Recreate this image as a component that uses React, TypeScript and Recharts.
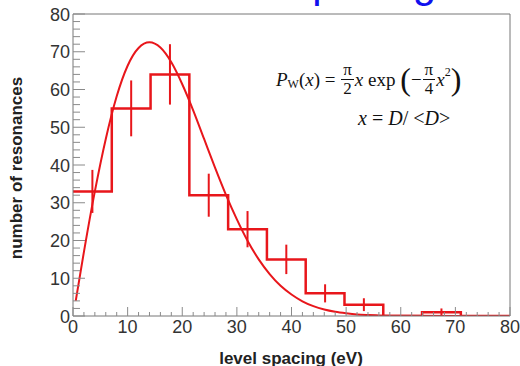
import { ComposedChart, Line, Scatter, ErrorBar, XAxis, YAxis } from "recharts";

// histogram (bin edges and counts, step drawn after each edge)
const binEdges = [0, 7.1, 14.2, 21.3, 28.4, 35.5, 42.6, 49.7, 56.8, 63.9, 71, 80];
const binCounts = [33, 55, 64, 32, 23, 15, 6, 3, 0, 1, 0, 0];

// error bars at bin centres
const binCenters = [3.55, 10.65, 17.75, 24.85, 31.95, 39.05, 46.15, 53.25, 67.45];
const centerCounts = [33, 55, 64, 32, 23, 15, 6, 3, 1];
const countErrors = [5.7, 7.4, 8, 5.7, 4.8, 3.9, 2.4, 1.7, 1];

// Wigner curve
const curveX = [0.5, 2, 4, 6, 8, 10, 12, 14, 16, 18, 20, 22, 24, 26, 28, 30, 32, 34, 36, 38, 40, 42, 44, 46, 48, 50, 52, 54, 56, 60, 80];
const curveY = [4, 17, 33, 46.9, 58.2, 66.3, 71, 72.5, 71.1, 67.2, 61.4, 54.5, 46.9, 39.3, 32.1, 25.6, 19.8, 15, 11.1, 8, 5.7, 3.9, 2.6, 1.7, 1.1, 0.7, 0.4, 0.25, 0.15, 0.05, 0];

const majorTicks = [0, 10, 20, 30, 40, 50, 60, 70, 80];
const axisTicks = [0, 2, 4, 6, 8, 10, 12, 14, 16, 18, 20, 22, 24, 26, 28, 30, 32, 34, 36, 38, 40, 42, 44, 46, 48, 50, 52, 54, 56, 58, 60, 62, 64, 66, 68, 70, 72, 74, 76, 78, 80];

const histData = binEdges.map((x, i) => ({ x, y: binCounts[i] }));
const errData = binCenters.map((x, i) => ({ x, y: centerCounts[i], err: countErrors[i] }));
const curveData = curveX.map((x, i) => ({ x, y: curveY[i] }));

const RED = "#e8161b";
const FRAME = "#777";
const TICK = "#8a8a8a";
const SANS = "'Liberation Sans', Arial, sans-serif";

const isMajor = (v: number) => majorTicks.includes(v);

// tick marks point into the plot; labels only on bottom and left
function makeTick(side: "bottom" | "top" | "left" | "right") {
  return (props: any) => {
    const { x, y, payload } = props;
    const v = payload.value;
    const major = isMajor(v);
    if (side === "bottom" || side === "top") {
      const len = major ? 9 : 4;
      const dir = side === "bottom" ? -1 : 1;
      return (
        <g>
          <line x1={x} x2={x} y1={y} y2={y + dir * len} stroke={TICK} strokeWidth={1} />
          {side === "bottom" && major && (
            <text x={x} y={y + 17} textAnchor="middle" fill="#333" fontSize={18} fontFamily={SANS}>{v}</text>
          )}
        </g>
      );
    }
    const len = major ? 12 : 7;
    const dir = side === "left" ? 1 : -1;
    return (
      <g>
        <line x1={x} x2={x + dir * len} y1={y} y2={y} stroke={TICK} strokeWidth={1} />
        {side === "left" && major && (
          <text x={x - 3} y={y + 6.5} textAnchor="end" fill="#333" fontSize={18} fontFamily={SANS}>{v}</text>
        )}
      </g>
    );
  };
}

export default function App() {
  return (
    <div style={{ position: "fixed", left: 0, top: 0, width: 520, height: 366, overflow: "hidden", background: "#fff" }}>
      <ComposedChart width={520} height={366} margin={{ top: 13, right: 9, bottom: 49, left: 72 }}>
        <XAxis xAxisId="b" dataKey="x" type="number" domain={[0, 80]} ticks={axisTicks} interval={0} height={1}
          tickSize={0} tickMargin={0} tickLine={false} stroke={FRAME} tick={makeTick("bottom")} allowDataOverflow />
        <XAxis xAxisId="t" orientation="top" dataKey="x" type="number" domain={[0, 80]} ticks={axisTicks} interval={0} height={1}
          tickSize={0} tickMargin={0} tickLine={false} stroke={FRAME} tick={makeTick("top")} />
        <YAxis yAxisId="l" type="number" domain={[0, 80]} ticks={axisTicks} interval={0} width={1}
          tickSize={0} tickMargin={0} tickLine={false} stroke={FRAME} tick={makeTick("left")} allowDataOverflow />
        <YAxis yAxisId="r" orientation="right" type="number" domain={[0, 80]} ticks={axisTicks} interval={0} width={1}
          tickSize={0} tickMargin={0} tickLine={false} stroke={FRAME} tick={makeTick("right")} />

        <Line xAxisId="b" yAxisId="l" data={curveData} dataKey="y" type="monotone" stroke={RED}
          strokeWidth={2} dot={false} isAnimationActive={false} />
        <Line xAxisId="b" yAxisId="l" data={histData} dataKey="y" type="stepAfter" stroke={RED}
          strokeWidth={2.5} dot={false} isAnimationActive={false} />
        <Scatter xAxisId="b" yAxisId="l" data={errData} dataKey="y" shape={() => <g />} isAnimationActive={false}>
          <ErrorBar dataKey="err" direction="y" width={0} stroke={RED} strokeWidth={2} isAnimationActive={false} />
        </Scatter>
      </ComposedChart>

      <svg width={520} height={366} style={{ position: "absolute", left: 0, top: 0, pointerEvents: "none" }}>
        <text x={436} y={-3} textAnchor="end" fill="#1010ee" fontSize={42} fontFamily={SANS}>
          Level spacing
        </text>
        <text x={291} y={364} textAnchor="middle" fill="#222" fontSize={17} fontWeight="bold" fontFamily={SANS}>
          level spacing (eV)
        </text>
        <text transform="translate(22,168) rotate(-90)" textAnchor="middle" fill="#222" fontSize={17} fontWeight="bold"
          fontFamily={SANS}>
          number of resonances
        </text>
      </svg>

      <div style={{ position: "absolute", left: 276, top: 61, fontFamily: "'Liberation Serif', serif", fontSize: 19,
        color: "#111", display: "flex", alignItems: "center", whiteSpace: "nowrap", lineHeight: 1 }}>
        <i>P</i><span style={{ fontSize: 12, position: "relative", top: 5 }}>W</span>(<i>x</i>)&nbsp;=&nbsp;
        <span style={{ display: "inline-flex", flexDirection: "column", alignItems: "center", fontSize: 17, margin: "0 1px" }}>
          <span style={{ borderBottom: "1px solid #111", padding: "0 2px 1px" }}>π</span>
          <span>2</span>
        </span>
        <i>x</i>&nbsp;exp&nbsp;<span style={{ fontSize: 32, fontWeight: 100 }}>(</span>−
        <span style={{ display: "inline-flex", flexDirection: "column", alignItems: "center", fontSize: 17, margin: "0 1px" }}>
          <span style={{ borderBottom: "1px solid #111", padding: "0 2px 1px" }}>π</span>
          <span>4</span>
        </span>
        <i>x</i><span style={{ fontSize: 12, position: "relative", top: -7 }}>2</span>
        <span style={{ fontSize: 32, fontWeight: 100 }}>)</span>
      </div>
      <div style={{ position: "absolute", left: 358, top: 108, fontFamily: "'Liberation Serif', serif", fontSize: 20,
        color: "#111", whiteSpace: "nowrap", lineHeight: 1 }}>
        <i>x</i> = <i>D</i>/ &lt;<i>D</i>&gt;
      </div>
    </div>
  );
}
